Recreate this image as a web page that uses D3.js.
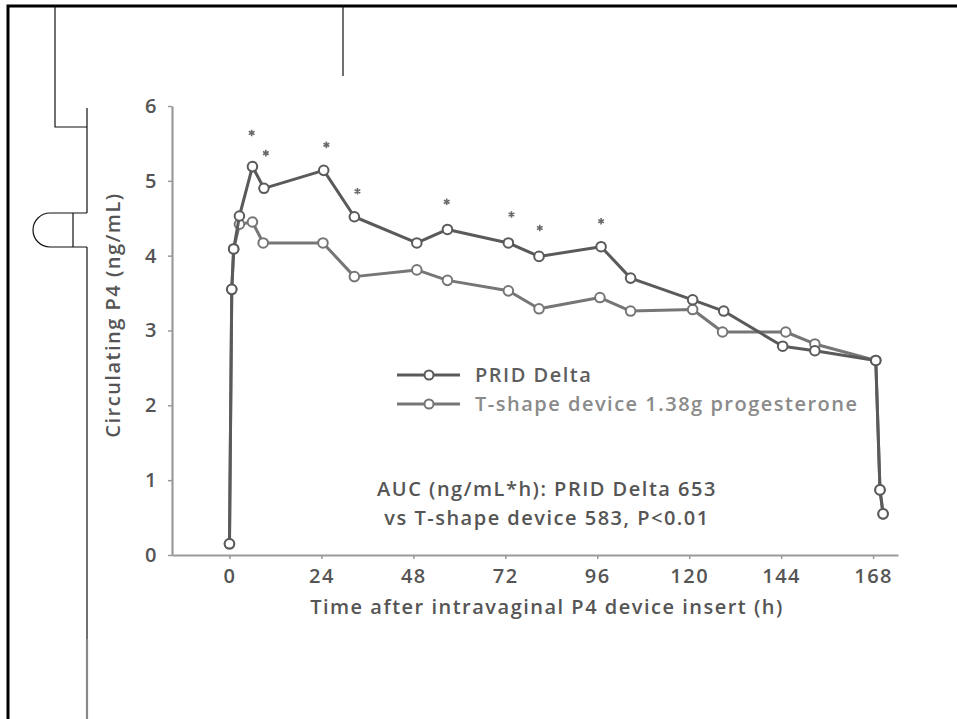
<!DOCTYPE html>
<html><head><meta charset="utf-8">
<script src="https://cdn.jsdelivr.net/npm/d3@7"></script>
<style>
body{margin:0;background:#fff}
svg{display:block}
text{font-family:"Open Sans","Noto Sans",sans-serif}
</style>
</head><body>
<svg id="c" width="957" height="719"></svg>
<script>
// ---- data ----
const timesPRID  = [0, 0.6, 1.1, 2.6, 6, 9, 24.6, 32.6, 48.9, 56.9, 72.8, 80.8, 97, 104.7, 120.9, 129, 144.4, 152.8, 168.7, 169.8, 170.6];
const valuesPRID = [0.15, 3.55, 4.09, 4.53, 5.19, 4.90, 5.14, 4.52, 4.17, 4.35, 4.17, 3.99, 4.12, 3.70, 3.41, 3.26, 2.79, 2.73, 2.60, 0.87, 0.55];
const timesT     = [0, 0.6, 1.1, 2.6, 6, 8.8, 24.4, 32.6, 48.9, 56.9, 72.8, 80.8, 96.7, 104.7, 120.9, 128.7, 145.2, 152.8, 168.7, 169.8, 170.6];
const valuesT    = [0.15, 3.55, 4.09, 4.42, 4.45, 4.17, 4.17, 3.72, 3.81, 3.67, 3.53, 3.29, 3.44, 3.26, 3.28, 2.98, 2.98, 2.82, 2.60, 0.87, 0.55];
const starTimes  = [5.8, 9.5, 25.3, 33.4, 56.7, 73.6, 81, 97];
const starValues = [5.64, 5.37, 5.48, 4.86, 4.72, 4.55, 4.37, 4.46];
const xTicks = [0, 24, 48, 72, 96, 120, 144, 168];
const yTicks = [0, 1, 2, 3, 4, 5, 6];
const seriesNames = ["PRID Delta", "T-shape device 1.38g progesterone"];
const aucLines = ["AUC (ng/mL*h): PRID Delta 653", "vs T-shape device 583, P<0.01"];
const xTitle = "Time after intravaginal P4 device insert (h)";
const yTitle = "Circulating P4 (ng/mL)";

// ---- layout ----
const svg = d3.select("#c");
svg.append("rect").attr("width",957).attr("height",719).attr("fill","#fff");

// page frame / decorations from the scan
const deco = svg.append("g").attr("fill","none");
deco.append("path").attr("d","M8,719 V6 H957").attr("stroke","#000").attr("stroke-width",3);
deco.append("path").attr("d","M55,6 V127 H87 M87,108 V213 M50,213 H87 M73,213 V247 M50,247 H87 M87,247 V639 M343,6 V76")
  .attr("stroke","#111").attr("stroke-width",1.2);
deco.append("path").attr("d","M50,213 A17,17 0 0 0 50,247").attr("stroke","#111").attr("stroke-width",1.2);
deco.append("path").attr("d","M87,639 V719").attr("stroke","#888").attr("stroke-width",2.2);

const x = d3.scaleLinear().domain([-15, 174.5]).range([172, 898]);
const y = d3.scaleLinear().domain([0, 6]).range([555, 106]);

const axisColor = "#9a9a9a", textColor = "#555";
const FS = 20, LS = 1.5;

const gx = svg.append("g").attr("transform",`translate(0,${y(0)})`)
  .call(d3.axisBottom(x).tickValues(xTicks).tickFormat(d3.format("d")).tickSize(4).tickSizeOuter(0).tickPadding(10));
const gy = svg.append("g").attr("transform",`translate(${x.range()[0]},0)`)
  .call(d3.axisLeft(y).tickValues(yTicks).tickFormat(d3.format("d")).tickSize(4).tickSizeOuter(0).tickPadding(10));
[gx, gy].forEach(g => {
  g.select(".domain").attr("stroke",axisColor).attr("stroke-width",2.2);
  g.selectAll(".tick line").attr("stroke",axisColor).attr("stroke-width",1.5);
  g.selectAll(".tick text").attr("fill",textColor).attr("font-size",FS).attr("font-weight",600)
    .attr("letter-spacing",LS)
    .style("font-family",'"Open Sans","Noto Sans",sans-serif');
});

svg.append("text").attr("transform",`translate(120,315) rotate(-90)`).attr("text-anchor","middle")
  .attr("fill",textColor).attr("font-size",FS).attr("font-weight",600).attr("letter-spacing",LS).text(yTitle);
svg.append("text").attr("x",547).attr("y",614).attr("text-anchor","middle")
  .attr("fill",textColor).attr("font-size",FS).attr("font-weight",600).attr("letter-spacing",LS).text(xTitle);

// series
const series = [
  {name: seriesNames[1], t: timesT, v: valuesT, color: "#767676"},
  {name: seriesNames[0], t: timesPRID, v: valuesPRID, color: "#5a5a5a"}
];
const line = d3.line().x(d => x(d[0])).y(d => y(d[1]));
series.forEach(s => {
  const pts = s.t.map((t,i) => [t, s.v[i]]);
  svg.append("path").datum(pts).attr("d",line).attr("fill","none")
    .attr("stroke",s.color).attr("stroke-width",3).attr("stroke-linejoin","round");
  svg.append("g").selectAll("circle").data(pts).join("circle")
    .attr("cx",d => x(d[0])).attr("cy",d => y(d[1])).attr("r",4.8)
    .attr("fill","#fff").attr("stroke",s.color).attr("stroke-width",2);
});

// significance asterisks
const sym = d3.symbol().type(d3.symbolAsterisk || d3.symbolCross).size(30);
svg.append("g").selectAll("path").data(starTimes.map((t,i)=>[t, starValues[i]])).join("path")
  .attr("d", sym).attr("transform", d => `translate(${x(d[0])},${y(d[1])})`)
  .attr("fill","#6a6a6a").attr("stroke","#6a6a6a").attr("stroke-width",1.6);

// legend
const legend = [
  {name: seriesNames[0], color: "#5a5a5a", tc: "#5e5e5e", ly: 375},
  {name: seriesNames[1], color: "#767676", tc: "#8a8a8a", ly: 404}
];
legend.forEach(l => {
  const g = svg.append("g");
  g.append("line").attr("x1",397).attr("x2",460).attr("y1",l.ly).attr("y2",l.ly)
    .attr("stroke",l.color).attr("stroke-width",3);
  g.append("circle").attr("cx",429).attr("cy",l.ly).attr("r",4.5)
    .attr("fill","#fff").attr("stroke",l.color).attr("stroke-width",2);
  g.append("text").attr("x",475).attr("y",l.ly+7).attr("fill",l.tc)
    .attr("font-size",FS).attr("font-weight",600).attr("letter-spacing",LS).text(l.name);
});

// AUC annotation
aucLines.forEach((s,i) => {
  svg.append("text").attr("x",547).attr("y",496 + i*29).attr("text-anchor","middle")
    .attr("fill",textColor).attr("font-size",FS).attr("font-weight",600).attr("letter-spacing",LS).text(s);
});
</script>
</body></html>
